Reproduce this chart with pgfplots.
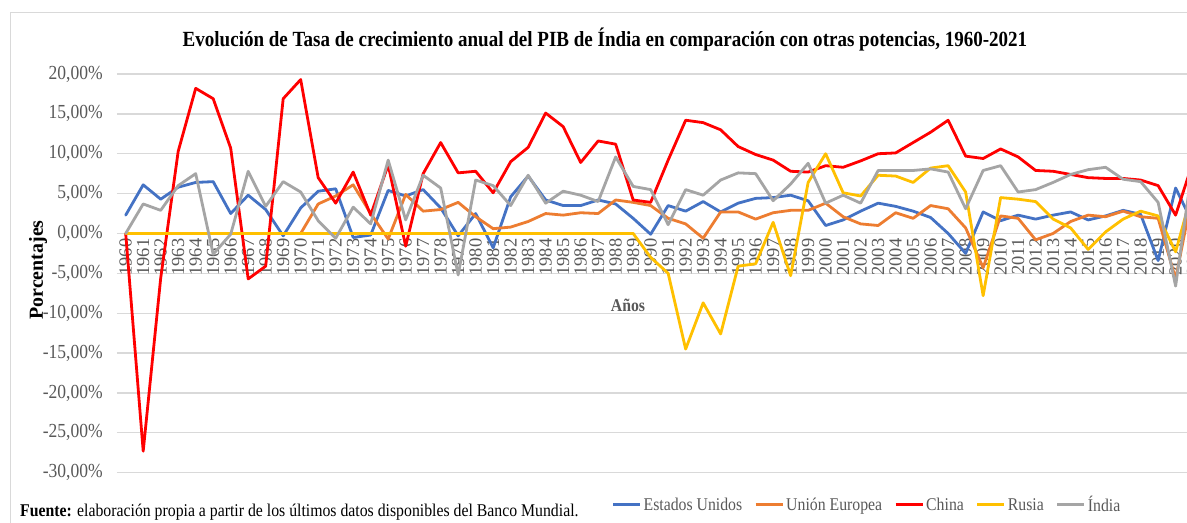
\documentclass[border=0pt]{standalone}
\usepackage{fontspec}
\setmainfont{Liberation Serif}[FakeStretch=0.88]
\newfontfamily\rotfont{Liberation Serif}
\usepackage{pgfplots}
\usepackage{pgfplotstable}
\pgfplotsset{compat=1.18}
\definecolor{cUS}{HTML}{4472C4}
\definecolor{cEU}{HTML}{ED7D31}
\definecolor{cCN}{HTML}{FF0000}
\definecolor{cRU}{HTML}{FFC000}
\definecolor{cIN}{HTML}{A5A5A5}
\definecolor{gridgray}{HTML}{D9D9D9}
\definecolor{tickgray}{HTML}{595959}

% tasa de crecimiento anual del PIB (%)
\pgfplotstableread{
year us eu cn ru in
1960 2.3 0 0 0 0
1961 6.1 0 -27.3 0 3.7
1962 4.3 0 -5.6 0 2.9
1963 5.8 0 10.3 0 6.0
1964 6.4 0 18.2 0 7.5
1965 6.5 0 16.9 0 -2.6
1966 2.5 0 10.7 0 -0.1
1967 4.8 0 -5.7 0 7.8
1968 3.0 0 -4.1 0 3.4
1969 -0.3 0 16.9 0 6.5
1970 3.2 0 19.3 0 5.2
1971 5.3 3.7 7.0 0 1.6
1972 5.6 4.7 3.8 0 -0.6
1973 -0.5 6.1 7.7 0 3.3
1974 -0.2 2.5 2.3 0 1.2
1975 5.4 -0.7 8.6 0 9.2
1976 4.7 4.9 -1.6 0 1.7
1977 5.5 2.8 7.5 0 7.3
1978 3.2 3.0 11.4 0 5.7
1979 -0.3 3.9 7.6 0 -5.2
1980 2.5 2.1 7.8 0 6.7
1981 -1.8 0.6 5.1 0 6.0
1982 4.6 0.8 9.0 0 3.5
1983 7.2 1.5 10.8 0 7.3
1984 4.2 2.5 15.1 0 3.8
1985 3.5 2.3 13.4 0 5.3
1986 3.5 2.6 8.9 0 4.8
1987 4.2 2.5 11.6 0 4.0
1988 3.7 4.2 11.2 0 9.6
1989 1.9 3.9 4.2 0 5.9
1990 -0.1 3.5 3.9 -3.0 5.5
1991 3.5 1.9 9.2 -5.0 1.1
1992 2.8 1.2 14.2 -14.5 5.5
1993 4.0 -0.6 13.9 -8.7 4.8
1994 2.7 2.7 13.0 -12.6 6.7
1995 3.8 2.7 10.9 -4.1 7.6
1996 4.4 1.8 9.9 -3.8 7.5
1997 4.5 2.6 9.2 1.4 4.1
1998 4.8 2.9 7.8 -5.3 6.2
1999 4.1 2.9 7.7 6.4 8.8
2000 1.0 3.8 8.5 10.0 3.8
2001 1.7 2.1 8.3 5.1 4.8
2002 2.8 1.2 9.1 4.7 3.8
2003 3.8 1.0 10.0 7.3 7.9
2004 3.4 2.6 10.1 7.2 7.9
2005 2.8 1.9 11.4 6.4 7.9
2006 2.0 3.5 12.7 8.2 8.1
2007 0.0 3.1 14.2 8.5 7.7
2008 -2.5 0.7 9.7 5.2 3.1
2009 2.7 -4.3 9.4 -7.8 7.9
2010 1.6 2.2 10.6 4.5 8.5
2011 2.3 1.9 9.6 4.3 5.2
2012 1.8 -0.8 7.9 4.0 5.5
2013 2.3 0.0 7.8 1.8 6.4
2014 2.7 1.5 7.4 0.7 7.4
2015 1.7 2.3 7.0 -2.0 8.0
2016 2.2 2.1 6.9 0.2 8.3
2017 2.9 2.8 6.9 1.8 6.8
2018 2.4 2.1 6.7 2.8 6.5
2019 -3.4 1.9 6.0 2.2 3.9
2020 5.7 -5.7 2.3 -2.3 -6.6
2021 1.2 5.4 9.0 5.6 9.0
}\gdp

\begin{document}
\begin{tikzpicture}[x=1bp,y=1bp]
\useasboundingbox (0,0) rectangle (1187,523);
\clip (0,0) rectangle (1187,523);
\fill[white] (0,0) rectangle (1187,523);
\draw[gridgray, line width=1bp] (10,-20) rectangle (1230,510);
\begin{axis}[
  at={(116.95bp,50.3bp)}, anchor=south west,
  scale only axis, width=1085bp, height=398.7bp,
  xmin=1959.5, xmax=2021.5, ymin=-30, ymax=20,
  axis x line=middle, axis y line=left,
  axis line style={draw=none},
  hide obscured x ticks=false, hide obscured y ticks=false,
  major tick length=0pt,
  xtick=data,
  xticklabel={\pgfmathprintnumber[fixed,precision=0,1000 sep={}]{\tick}},
  xticklabel style={font=\rotfont\fontsize{18.5}{18.5}\selectfont, text=tickgray,
    rotate=90, anchor=east, inner sep=0pt},
  xticklabel shift=5bp,
  /pgf/number format/assume math mode=true,
  ytick={-30,-25,...,20},
  yticklabels={{-30,00\%},{-25,00\%},{-20,00\%},{-15,00\%},{-10,00\%},{-5,00\%},{0,00\%},{5,00\%},{10,00\%},{15,00\%},{20,00\%}},
  yticklabel style={font=\fontsize{20}{20}\selectfont, text=tickgray, anchor=east, inner sep=0pt, xshift=-14bp},
  ymajorgrids, grid style={gridgray, line width=1.3bp},
  no markers,
  every axis plot/.append style={line width=2.8bp, line join=round, line cap=round},
  legend columns=5,
  legend image code/.code={\draw[#1, line width=3bp, line cap=butt] (0bp,0bp) -- (27bp,0bp);},
  legend style={at={(0.453,-0.081)}, anchor=west, draw=none, fill=none,
    font=\fontsize{18}{18}\selectfont, text=tickgray,
    nodes={inner sep=1bp},
    /tikz/every odd column/.style={column sep=1bp},
    /tikz/every even column/.style={column sep=11bp}},
]
\addplot[cUS] table[x=year,y=us]{\gdp};
\addlegendentry{Estados Unidos}
\addplot[cEU] table[x=year,y=eu]{\gdp};
\addlegendentry{Unión Europea}
\addplot[cCN] table[x=year,y=cn]{\gdp};
\addlegendentry{China}
\addplot[cRU] table[x=year,y=ru]{\gdp};
\addlegendentry{Rusia}
\addplot[cIN] table[x=year,y=in]{\gdp};
\addlegendentry{Índia}
\end{axis}
\node[font=\bfseries\fontsize{21.7}{21.7}\selectfont] at (605,483)
  {Evolución de Tasa de crecimiento anual del PIB de Índia en comparación con otras potencias, 1960-2021};
\node[font=\rotfont\bfseries\fontsize{20}{20}\selectfont, rotate=90] at (38,253) {Porcentajes};
\node[font=\bfseries\fontsize{18}{18}\selectfont, text=tickgray] at (628,218) {Años};
\node[anchor=west, font=\fontsize{18}{18}\selectfont, inner sep=0pt] at (20,11)
  {\textbf{Fuente:} elaboración propia a partir de los últimos datos disponibles del Banco Mundial.};
\end{tikzpicture}
\end{document}
